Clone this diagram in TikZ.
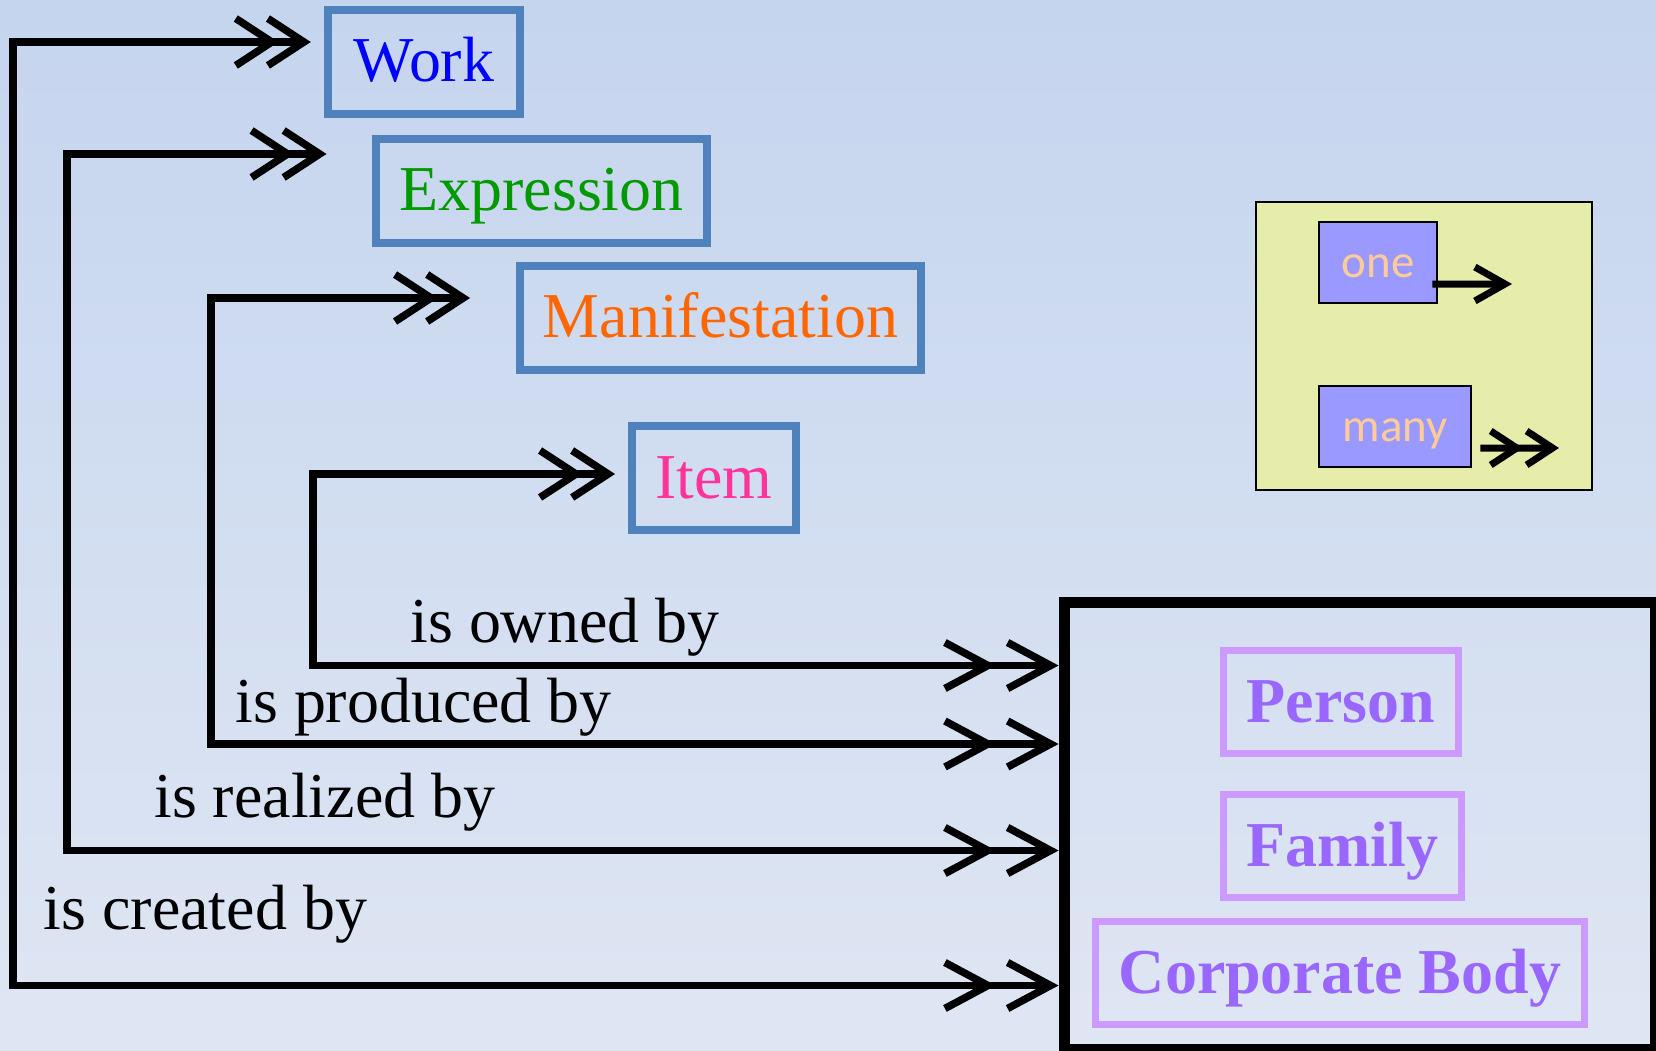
\documentclass[tikz,border=0pt]{standalone}
\usepackage{fontspec}
\setmainfont{Liberation Serif}
\newfontfamily\keyfont{Carlito}
\usetikzlibrary{arrows.meta}

\definecolor{bgtop}{HTML}{C5D5EE}
\definecolor{bgbottom}{HTML}{DFE6F3}
\definecolor{boxblue}{HTML}{4F81BD}
\definecolor{workblue}{HTML}{0000FF}
\definecolor{exprgreen}{HTML}{009900}
\definecolor{maniforange}{HTML}{FF6600}
\definecolor{itempink}{HTML}{FF3399}
\definecolor{agenttext}{HTML}{9966FF}
\definecolor{agentline}{HTML}{CC99FF}
\definecolor{legendfill}{HTML}{E6ECAA}
\definecolor{keyfill}{HTML}{9999FF}
\definecolor{keytext}{HTML}{FFCC99}

\begin{document}
\begin{tikzpicture}[x=0.02cm, y=-0.02cm,
    entity/.style={draw=boxblue, line width=0.16cm, minimum height=2.08cm, inner sep=0pt, text height=0.8cm, text depth=0pt, font=\fontsize{36.4}{40}\selectfont},
    agent/.style={draw=agentline, line width=0.14cm, minimum height=2.06cm, inner sep=0pt, text height=0.8cm, text depth=0pt, text=agenttext, font=\fontsize{36.4}{40}\selectfont\bfseries},
    rel/.style={anchor=base west, inner sep=0pt, font=\fontsize{36.4}{40}\selectfont},
    link/.style={line width=0.15cm,
        {Straight Barb[length=0.72cm,width=0.94cm] Straight Barb[length=0.72cm,width=0.94cm,sep=-0.29cm]}-{Straight Barb[length=0.86cm,width=0.92cm,sep=0.16cm] Straight Barb[length=0.86cm,width=0.92cm]}},
    legendkey/.style={draw, line width=0.05cm, fill=keyfill, minimum height=1.62cm, inner sep=0pt, text=keytext, text height=0.6cm, text depth=0pt, font=\keyfont\fontsize{26.7}{30}\selectfont},
    toone/.style={line width=0.14cm, -{Straight Barb[length=0.6cm,width=0.68cm]}},
    tomany/.style={line width=0.14cm, -{Straight Barb[length=0.52cm,width=0.68cm] Straight Barb[length=0.52cm,width=0.68cm]}}]
    % background
    \useasboundingbox (0,0) rectangle (1656,1051);
    \fill[top color=bgtop, bottom color=bgbottom] (0,0) rectangle (1656,1051);
    % entity boxes
    \node[entity, text=workblue, minimum width=3.83cm] (work) at (424,62) {Work};
    \node[entity, text=exprgreen, minimum width=6.62cm] (expr) at (541.5,191) {Expression};
    \node[entity, text=maniforange, minimum width=8.02cm] (manif) at (720.5,318) {Manifestation};
    \node[entity, text=itempink, minimum width=3.28cm] (item) at (714,478) {Item};
    % agents
    \node[draw, line width=0.22cm, minimum width=11.83cm, minimum height=8.95cm] (agents) at (1359.75,825.75) {};
    \node[agent, minimum width=4.7cm] (person) at (1341,702) {Person};
    \node[agent, minimum width=4.76cm] (family) at (1342.5,846) {Family};
    \node[agent, minimum width=9.77cm] (corporate) at (1340,973) {Corporate Body};
    % legend
    \node[draw, line width=0.03cm, fill=legendfill, minimum width=6.72cm, minimum height=5.76cm] (legendbox) at (1424,346) {};
    \node[legendkey, minimum width=2.36cm] (one) at (1378,262.5) {one};
    \node[legendkey, minimum width=3.04cm] (many) at (1395,426.5) {many};
    \coordinate (onetip) at (1512,284);
    \coordinate (manytip) at (1559,448);
    \draw[toone] ([shift={(-6,21.5)}]one.east) -- (onetip);
    \draw[tomany] ([shift={(8,21.5)}]many.east) -- (manytip);
    % corners of the links
    \coordinate (created) at (13,985.5);
    \coordinate (realized) at (67,850.5);
    \coordinate (produced) at (211,744);
    \coordinate (owned) at (313,665.5);
    % links
    \draw[link] ([shift={(-13.5,-20)}]work.west) -| (created) -- (agents.west |- created);
    \draw[link] ([shift={(-45.5,-37)}]expr.west) -| (realized) -- (agents.west |- realized);
    \draw[link] ([shift={(-46,-20)}]manif.west) -| (produced) -- (agents.west |- produced);
    \draw[link] ([shift={(-13,-4)}]item.west) -| (owned) -- (agents.west |- owned);
    % labels
    \node[rel] (ownedby) at (410,642) {is owned by};
    \node[rel] (producedby) at (235,722) {is produced by};
    \node[rel] (realizedby) at (154,817) {is realized by};
    \node[rel] (createdby) at (43.5,929) {is created by};
\end{tikzpicture}
\end{document}
